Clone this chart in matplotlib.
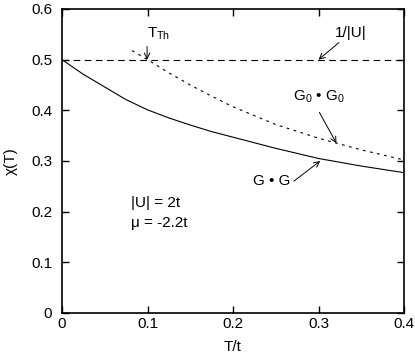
import matplotlib
matplotlib.use("Agg")
import matplotlib.pyplot as plt

# data
T_gg = [0.0, 0.025, 0.05, 0.075, 0.1, 0.125, 0.15, 0.175, 0.2, 0.25, 0.3, 0.35, 0.4]
chi_gg = [0.5, 0.471, 0.446, 0.421, 0.401, 0.385, 0.371, 0.358, 0.347, 0.325, 0.305, 0.290, 0.277]
T_g0 = [0.082, 0.1, 0.125, 0.15, 0.175, 0.2, 0.25, 0.3, 0.35, 0.4]
chi_g0 = [0.518, 0.5, 0.474, 0.450, 0.428, 0.407, 0.372, 0.345, 0.322, 0.302]
inv_U = 0.5
xticks = [0, 0.1, 0.2, 0.3, 0.4]
yticks = [0, 0.1, 0.2, 0.3, 0.4, 0.5, 0.6]

plt.rcParams['font.family'] = ['Liberation Sans', 'DejaVu Sans']
plt.rcParams['mathtext.fontset'] = 'custom'
plt.rcParams['mathtext.rm'] = 'Liberation Sans'
plt.rcParams['mathtext.it'] = 'Liberation Sans'

FS = 11

fig = plt.figure(figsize=(4.15, 3.59), dpi=100)
ax = fig.add_axes([62/415, 1-313/359, (404-62)/415, (313-9)/359])

ax.axhline(inv_U, color='black', lw=0.8, dashes=(6, 4))
ax.plot(T_gg, chi_gg, color='black', lw=0.8)
ax.plot(T_g0, chi_g0, color='black', lw=0.8, dashes=(2.5, 4))

ax.set_xlim(0, 0.4)
ax.set_ylim(0, 0.6)
ax.set_xticks(xticks)
ax.set_yticks(yticks)
ax.set_xticklabels(['0', '0.1', '0.2', '0.3', '0.4'])
ax.set_yticklabels(['0', '0.1', '0.2', '0.3', '0.4', '0.5', '0.6'])
ax.tick_params(direction='in', top=True, right=True, length=5, width=1, labelsize=FS)
ax.tick_params(axis='x', pad=3)
ax.tick_params(axis='y', pad=7)
for s in ax.spines.values():
    s.set_linewidth(1.2)

ax.set_xlabel('T/t', fontsize=FS)
ax.set_ylabel('χ(T)', fontsize=FS)
ax.xaxis.set_label_coords(0.5, -0.09)
ax.yaxis.set_label_coords(-0.128, 0.5)

arrow = dict(arrowstyle='->', color='black', lw=0.7, shrinkA=0, shrinkB=0, mutation_scale=10)
ax.annotate('', xy=(0.0995, 0.5), xytext=(0.0995, 0.526), arrowprops=arrow)
ax.text(0.0995, 0.535, r'T$_{\mathrm{Th}}$', fontsize=FS, ha='left', va='bottom')
ax.annotate('1/|U|', xy=(0.3, 0.5), xytext=(0.319, 0.553), arrowprops=arrow,
            fontsize=FS, ha='left', va='center')
ax.annotate('', xy=(0.321, 0.335), xytext=(0.301, 0.396), arrowprops=arrow)
ax.text(0.3, 0.426, r'G$_0$ • G$_0$', fontsize=FS, ha='center', va='center')
ax.annotate('', xy=(0.302, 0.300), xytext=(0.271, 0.260), arrowprops=arrow)
ax.text(0.245, 0.260, 'G • G', fontsize=FS, ha='center', va='center')
ax.text(0.081, 0.217, '|U| = 2t', fontsize=FS, ha='left', va='center')
ax.text(0.081, 0.178, 'μ = -2.2t', fontsize=FS, ha='left', va='center')

fig.savefig('out.png', dpi=100)
